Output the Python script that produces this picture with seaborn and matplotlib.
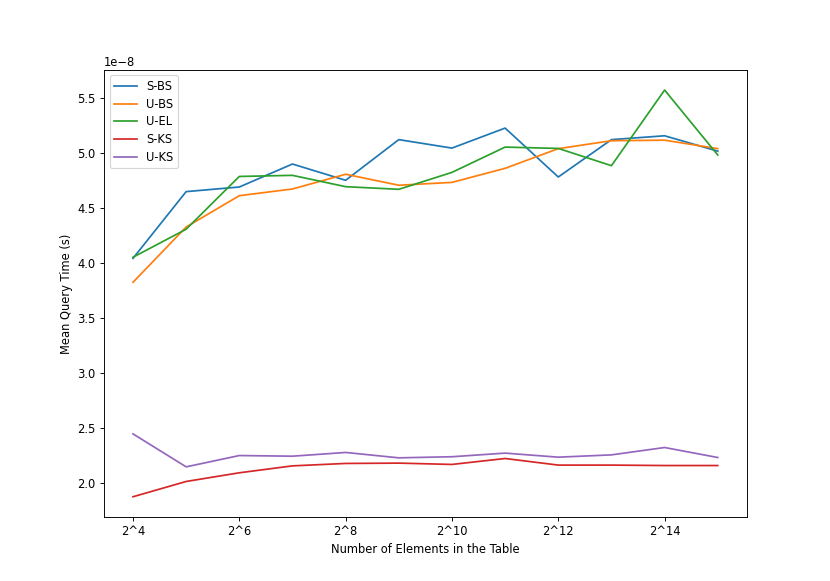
import numpy as np
import pandas as pd
import seaborn as sns
import matplotlib
matplotlib.use('Agg')
import matplotlib.pyplot as plt

exponents=[4,5,6,7,8,9,10,11,12,13,14,15]
s_bs=[4.045,4.652,4.694,4.903,4.755,5.125,5.048,5.23,4.785,5.125,5.16,5.02]
u_bs=[3.827,4.33,4.615,4.676,4.81,4.71,4.736,4.864,5.043,5.115,5.12,5.043]
u_el=[4.055,4.31,4.79,4.80,4.697,4.673,4.827,5.057,5.045,4.888,5.576,4.985]
s_ks=[1.876,2.015,2.094,2.157,2.179,2.182,2.17,2.224,2.164,2.164,2.16,2.16]
u_ks=[2.448,2.148,2.251,2.245,2.279,2.23,2.24,2.273,2.236,2.257,2.324,2.233]

series={'S-BS':s_bs,'U-BS':u_bs,'U-EL':u_el,'S-KS':s_ks,'U-KS':u_ks}
tick_pos=[4,6,8,10,12,14]
tick_labels=['2^%d'%e for e in tick_pos]

plt.figure(figsize=(10,7))
for name,vals in series.items():
    df=pd.DataFrame({'exp':exponents,'time':np.array(vals)*1e-8})
    sns.lineplot(x='exp',y='time',data=df,label=name)

plt.xticks(tick_pos,tick_labels)
plt.xlabel('Number of Elements in the Table')
plt.ylabel('Mean Query Time (s)')
plt.legend(loc='upper left',labelspacing=0.4)
plt.savefig('out.png',dpi=83)
